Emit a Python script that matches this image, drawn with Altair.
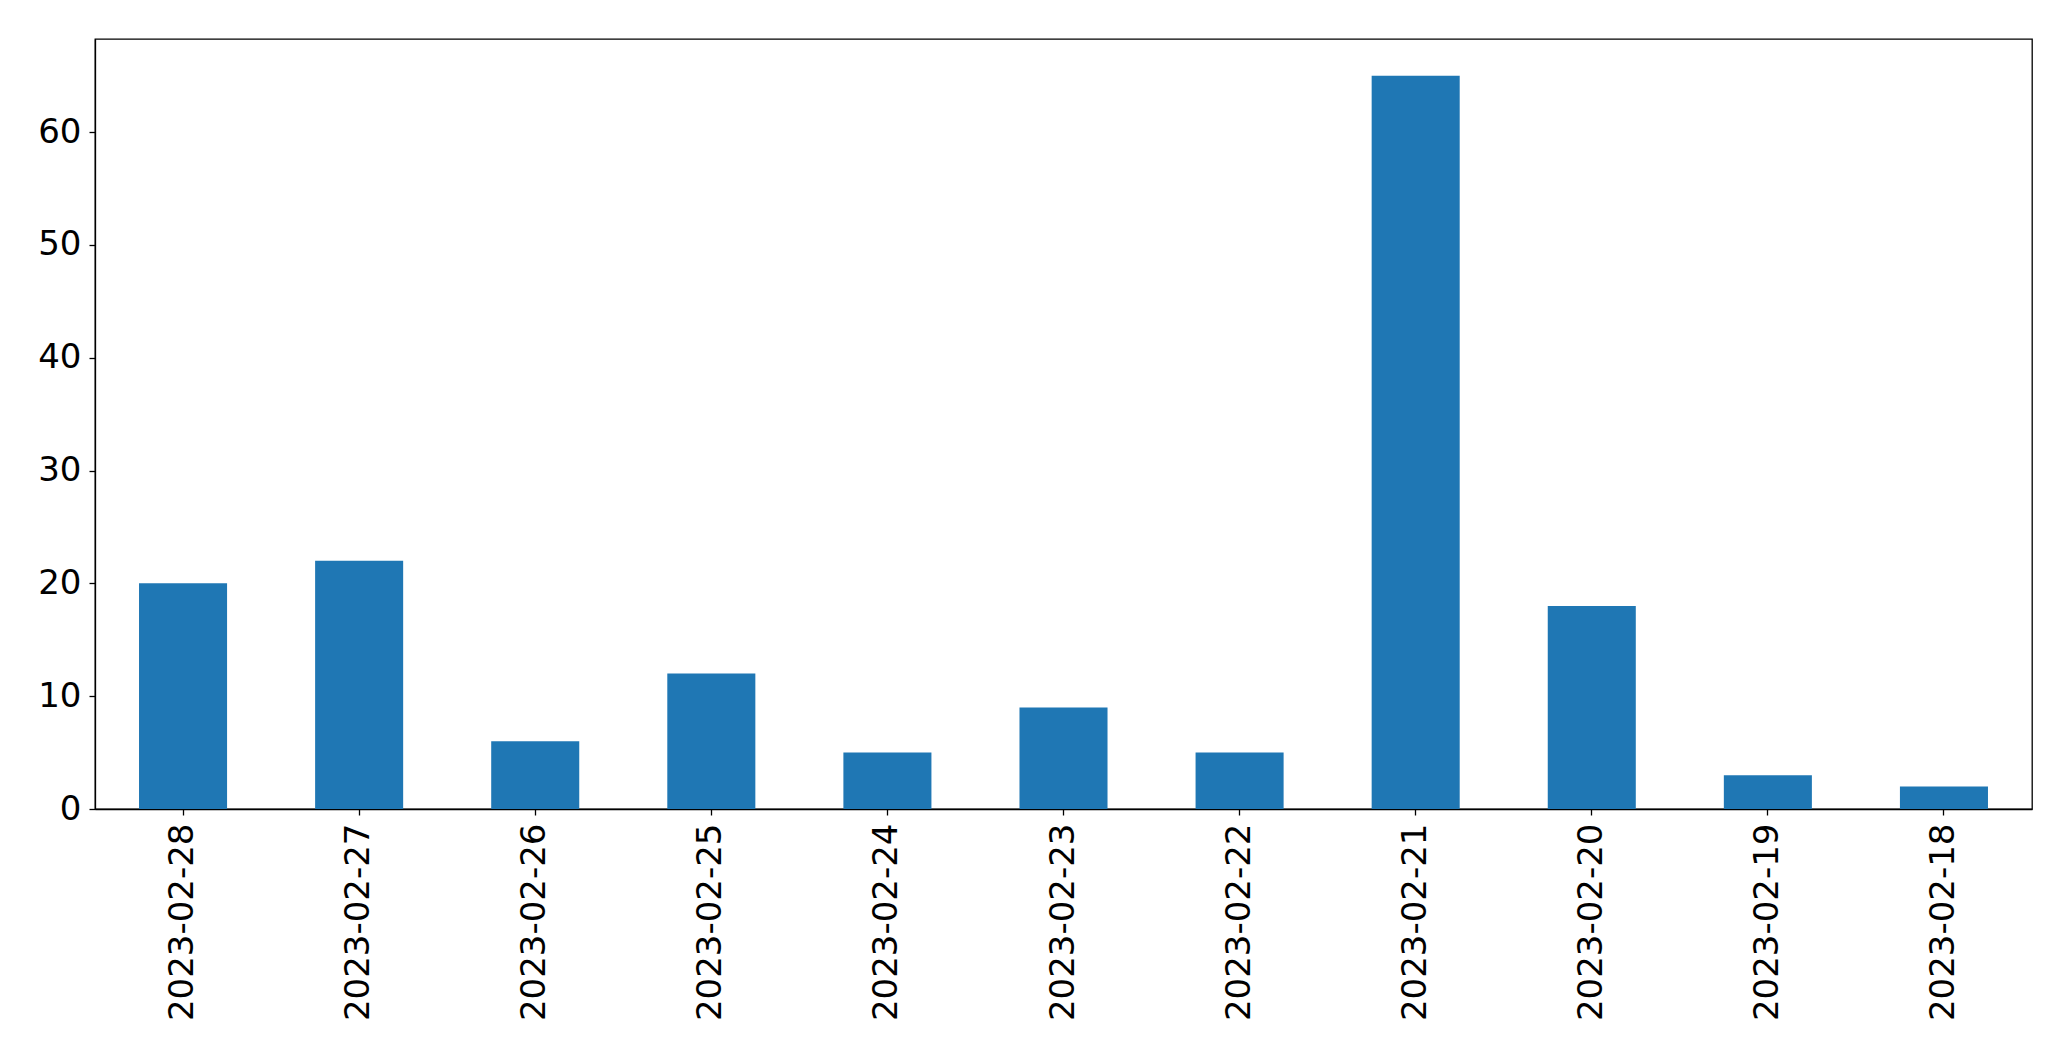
import altair as alt
import pandas as pd

dates = ["2023-02-28", "2023-02-27", "2023-02-26", "2023-02-25", "2023-02-24",
         "2023-02-23", "2023-02-22", "2023-02-21", "2023-02-20", "2023-02-19", "2023-02-18"]
counts = [20, 22, 6, 12, 5, 9, 5, 65, 18, 3, 2]

df = pd.DataFrame({"date": dates, "count": counts})

FONT = "DejaVu Sans"
FS = 34

chart = alt.Chart(df).mark_bar(color="#1f77b4").encode(
    x=alt.X("date:N", sort=dates, title=None,
            scale=alt.Scale(paddingInner=0.5, paddingOuter=0.25),
            axis=alt.Axis(labelAngle=270, labelFont=FONT, labelFontSize=FS, labelColor="black",
                          tickColor="black", tickSize=6, tickWidth=1.3, labelPadding=8,
                          labelLimit=0, domainColor="black", domainWidth=1.3)),
    y=alt.Y("count:Q", title=None,
            scale=alt.Scale(domain=[0, 68.25], nice=False, zero=True),
            axis=alt.Axis(values=[0, 10, 20, 30, 40, 50, 60], grid=False, labelFont=FONT,
                          labelFontSize=FS, labelColor="black", tickColor="black", tickSize=6,
                          tickWidth=1.3, labelPadding=8, domainColor="black", domainWidth=1.3)),
).properties(
    width=1937, height=770,
    background="white",
    autosize=alt.AutoSizeParams(type="none"),
    padding={"left": 87, "top": 31, "right": 24, "bottom": 236},
).configure_view(stroke="black", strokeWidth=1.3)

chart.save("out.html", embed_options={"renderer": "svg", "actions": False})
